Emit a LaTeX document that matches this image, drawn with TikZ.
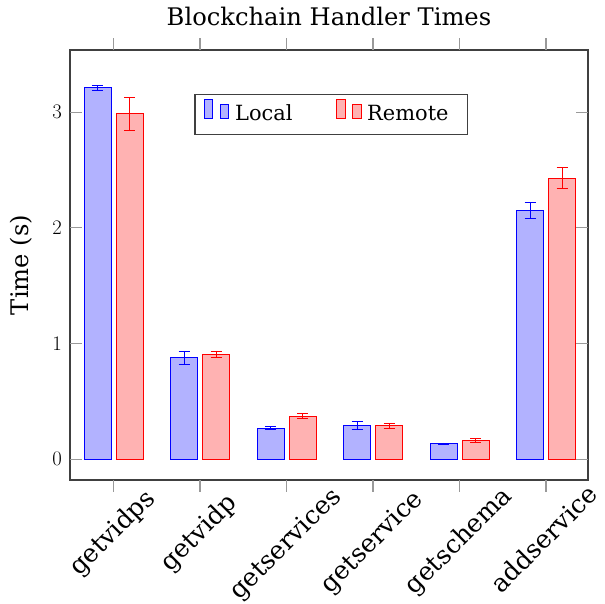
\documentclass[tikz,border=0pt]{standalone}
\usepackage{fontspec}
\setmainfont{DejaVu Serif}
\tikzset{
  frame/.style={draw=black!75, line width=1.3bp},
  tickmark/.style={draw=black!40, line width=1.1bp},
  localbar/.style={draw=blue, fill=blue!30, line width=0.9bp},
  remotebar/.style={draw=red, fill=red!30, line width=0.9bp},
  localerr/.style={draw=blue, line width=0.9bp},
  remoteerr/.style={draw=red, line width=0.9bp},
  lbl/.style={font=\fontsize{21}{25}\selectfont, inner sep=0pt},
  biglbl/.style={font=\fontsize{24.3}{29}\selectfont, inner sep=0pt},
  catlbl/.style={font=\fontsize{25.3}{30}\selectfont, inner sep=0pt,
                 rotate=45, text height=1.5ex, text depth=.25ex},
}
% one error bar: centre x, value, half range, style
\newcommand{\mkerr}[4]{%
  \draw[#4] (#1-0.0636,#2+#3) -- (#1+0.0636,#2+#3)
            (#1,#2+#3) -- (#1,#2-#3)
            (#1-0.0636,#2-#3) -- (#1+0.0636,#2-#3);}
\begin{document}
\begin{tikzpicture}[x=1bp, y=1bp]
\useasboundingbox (0,0) rectangle (604,604);

% bars and error bars in data coordinates
\begin{scope}[xshift=113.5bp, yshift=144.7bp, x=86.5bp, y=115.7bp]
  \foreach \i/\lv/\le/\rv/\re in {0/3.21/0.025/2.985/0.14,
                                  1/0.876/0.055/0.91/0.026,
                                  2/0.268/0.014/0.372/0.02,
                                  3/0.29/0.035/0.29/0.02,
                                  4/0.135/0.006/0.164/0.015,
                                  5/2.149/0.067/2.43/0.093}{
    \draw[localbar]  (\i-0.341,0) rectangle (\i-0.0289,\lv);
    \draw[remotebar] (\i+0.0289,0) rectangle (\i+0.341,\rv);
    \mkerr{\i-0.185}{\lv}{\le}{localerr}
    \mkerr{\i+0.185}{\rv}{\re}{remoteerr}
  }
\end{scope}

% axis frame and ticks
\draw[frame] (70,124) rectangle (588,554);
\foreach \v in {0,1,2,3}{
  \draw[tickmark] (70,144.7+115.7*\v) -- (82,144.7+115.7*\v);
  \draw[tickmark] (576,144.7+115.7*\v) -- (588,144.7+115.7*\v);
  \node[lbl, anchor=east] (yt\v) at (62,144.7+115.7*\v) {$\v$};
}
\foreach \i in {0,...,5}{
  \draw[tickmark] (113.5+86.5*\i,124) -- (113.5+86.5*\i,112.3);
  \draw[tickmark] (113.5+86.5*\i,554) -- (113.5+86.5*\i,565.7);
}

% category labels
\foreach \i/\name/\yy in {0/getvidps/68,1/getvidp/68,2/getservices/57,
                          3/getservice/59,4/getschema/60,5/addservice/61}{
  \node[catlbl] (xt\i) at (115.5+86.5*\i,\yy) {\name};
}

% title and axis label
\node[biglbl, anchor=base] (title) at (329,578) {Blockchain Handler Times};
\node[biglbl, rotate=90] (ylab) at (21,339) {Time (s)};

% legend
\draw[draw=black!75, line width=1.1bp, fill=white] (195,469.7) rectangle (467.3,509.7);
\draw[localbar]  (204,485.7) rectangle (212.7,505);
\draw[localbar]  (220,485.7) rectangle (228.3,499.7);
\node[lbl, anchor=west] (llocal) at (235,491) {Local};
\draw[remotebar] (336.7,485.7) rectangle (345.5,505);
\draw[remotebar] (352,485.7) rectangle (361,499.7);
\node[lbl, anchor=west] (lremote) at (367,491) {Remote};
\end{tikzpicture}
\end{document}
